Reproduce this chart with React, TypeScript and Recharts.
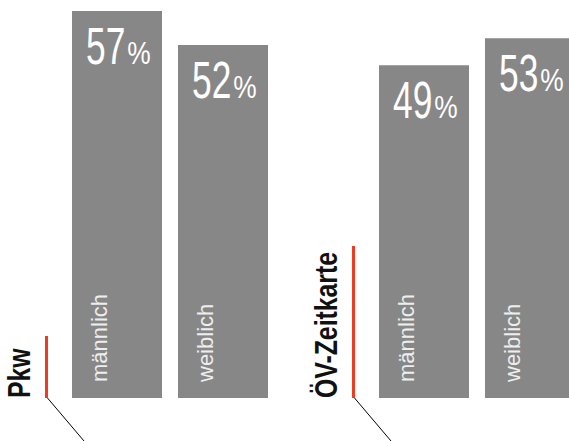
import React from 'react';
import { BarChart, Bar, XAxis, YAxis, LabelList } from 'recharts';

const groups = ['Pkw', 'ÖV-Zeitkarte'];
const maennlich = [57, 49];
const weiblich = [52, 53];
const seriesNames = ['männlich', 'weiblich'];

const data = groups.map((g, i) => ({ group: g, m: maennlich[i], w: weiblich[i] }));

const BAR_COLOR = '#878787';
const RED = '#ee3b24';
const FONT = "'Liberation Sans', Arial, sans-serif";
const markerLen: Record<string, number> = { Pkw: 62, 'ÖV-Zeitkarte': 152 };

const DIGIT_SIZE = 52;
const DIGIT_SCALE = 0.68;

const GroupTick = (props: any) => {
  const { x, y, payload } = props;
  const label = payload.value as string;
  const len = markerLen[label] ?? 60;
  return (
    <g>
      <text
        transform={`translate(${x - 139.5}, ${y}) rotate(-90) scale(0.8, 1)`}
        textAnchor="start"
        fontFamily={FONT}
        fontWeight="bold"
        fontSize={31}
        fill="#111"
      >
        {label}
      </text>
      <line x1={x - 123} x2={x - 123} y1={y} y2={y - len} stroke={RED} strokeWidth={3} />
      <line x1={x - 122} y1={y} x2={x - 85.5} y2={y + 43} stroke="#000" strokeWidth={1} />
    </g>
  );
};

const ValueLabel = (props: any) => {
  const { x, y, value } = props;
  const s = String(value);
  const bx = Number(x);
  const by = Number(y);
  const digitsW = s.length * DIGIT_SIZE * 0.556 * DIGIT_SCALE;
  return (
    <g>
      <text
        transform={`translate(${bx + 14}, ${by + 53}) scale(${DIGIT_SCALE}, 1)`}
        fontFamily={FONT}
        fontSize={DIGIT_SIZE}
        fill="#fff"
      >
        {s}
      </text>
      <text
        transform={`translate(${bx + 16 + digitsW}, ${by + 53}) scale(0.85, 1)`}
        fontFamily={FONT}
        fontSize={31}
        fill="#fff"
      >
        %
      </text>
    </g>
  );
};

const makeSeriesLabel = (name: string) => (props: any) => {
  const { x, y, height } = props;
  const bx = Number(x);
  const bottom = Number(y) + Number(height);
  return (
    <text
      transform={`translate(${bx + 35}, ${bottom - 16}) rotate(-90)`}
      textAnchor="start"
      fontFamily={FONT}
      fontSize={22}
      fill="#eeeeee"
    >
      {name}
    </text>
  );
};

export default function App() {
  return (
    <div
      style={{
        position: 'fixed',
        left: 0,
        top: 0,
        width: 569,
        height: 441,
        overflow: 'hidden',
        background: '#fff',
      }}
    >
      <BarChart
        width={640}
        height={441}
        data={data}
        margin={{ top: 11, right: 10, left: 16, bottom: 0 }}
        barGap={16}
      >
        <XAxis
          dataKey="group"
          axisLine={false}
          tickLine={false}
          tickSize={0}
          tickMargin={0}
          height={43}
          interval={0}
          tick={<GroupTick />}
        />
        <YAxis hide domain={[0, 57]} />
        <Bar dataKey="m" name={seriesNames[0]} fill={BAR_COLOR} barSize={90} isAnimationActive={false}>
          <LabelList dataKey="m" content={<ValueLabel />} />
          <LabelList dataKey="m" content={makeSeriesLabel(seriesNames[0])} />
        </Bar>
        <Bar dataKey="w" name={seriesNames[1]} fill={BAR_COLOR} barSize={90} isAnimationActive={false}>
          <LabelList dataKey="w" content={<ValueLabel />} />
          <LabelList dataKey="w" content={makeSeriesLabel(seriesNames[1])} />
        </Bar>
      </BarChart>
    </div>
  );
}
